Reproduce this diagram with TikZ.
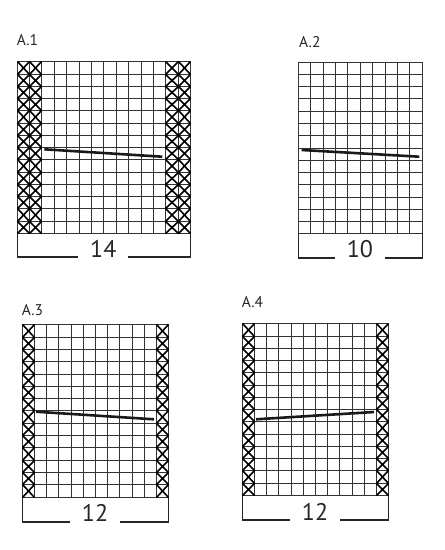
\documentclass[tikz,border=0pt]{standalone}
\usepackage{fontspec}
\setmainfont{PT Sans}
\tikzset{
  gridline/.style={draw=black!80,line width=1.35pt,line cap=rect},
  xmark/.style={draw=black,line width=1.6pt},
  slant/.style={draw=black!90,line width=2.6pt},
  bracket/.style={draw=black!85,line width=1.7pt},
  lbl/.style={anchor=base west,inner sep=0pt,font=\fontsize{15.5}{15.5}\selectfont,text=black!85},
  num/.style={anchor=base,inner sep=0pt,font=\fontsize{24}{24}\selectfont,text=black!85}
}
% x0 y0 cols rows cw ch  -- lines snapped to pixel centres
\newcommand\kgrid[6]{%
  \pgfmathsetmacro\gxa{round(#1)+0.5}\pgfmathsetmacro\gxb{round(#1+#3*#5)+0.5}%
  \pgfmathsetmacro\gya{round(#2)+0.5}\pgfmathsetmacro\gyb{round(#2+#4*#6)+0.5}%
  \foreach \i in {0,...,#3}{\pgfmathsetmacro\gx{round(#1+\i*#5)+0.5}\draw[gridline] (\gx,\gya) -- (\gx,\gyb);}
  \foreach \j in {0,...,#4}{\pgfmathsetmacro\gy{round(#2+\j*#6)+0.5}\draw[gridline] (\gxa,\gy) -- (\gxb,\gy);}
}
% x0 y0 col cw ch  (14 rows)
\newcommand\kx[5]{%
  \pgfmathsetmacro\kxa{round(#1+(#3-1)*#4)+0.5}\pgfmathsetmacro\kxb{round(#1+#3*#4)+0.5}%
  \foreach \j in {0,...,13}{%
    \pgfmathsetmacro\kya{round(#2+\j*#5)+0.5}\pgfmathsetmacro\kyb{round(#2+(\j+1)*#5)+0.5}%
    \draw[xmark] (\kxa,\kya) -- (\kxb,\kyb) (\kxb,\kya) -- (\kxa,\kyb);}
}
% x0 x1 ygrid ybracket
\newcommand\kbr[4]{%
  \pgfmathsetmacro\bxa{round(#1)+0.5}\pgfmathsetmacro\bxb{round(#2)+0.5}\pgfmathsetmacro\bya{round(#3)+0.5}\pgfmathsetmacro\byb{round(#4)}%
  \draw[bracket] (\bxa,\bya) -- (\bxa,\byb) -- ({(#1+#2)/2-25},\byb);
  \draw[bracket] ({(#1+#2)/2+25},\byb) -- (\bxb,\byb) -- (\bxb,\bya);
}
\begin{document}
\begin{tikzpicture}[x=1pt,y=-1pt]
\fill[white] (0,0) rectangle (445,550);
\useasboundingbox (0,0) rectangle (445,550);

% ---------- A.1 ----------
\node[lbl] (labA1) at (16.7,45) {A.1};
\kgrid{16.7}{61.3}{14}{14}{12.38}{12.25}
\kx{16.7}{61.3}{1}{12.38}{12.25}
\kx{16.7}{61.3}{2}{12.38}{12.25}
\kx{16.7}{61.3}{13}{12.38}{12.25}
\kx{16.7}{61.3}{14}{12.38}{12.25}
\draw[slant] (44.3,149.3) -- (162.3,156.7);
\kbr{16.7}{190}{232.8}{257.3}
\node[num] (numA1) at (103.3,257.5) {14};

% ---------- A.2 ----------
\node[lbl] (labA2) at (299,47.3) {A.2};
\kgrid{298}{61.7}{10}{14}{12.37}{12.26}
\draw[slant] (301.7,150) -- (419.3,156.7);
\kbr{298}{421.7}{233.3}{257.7}
\node[num] (numA2) at (359.9,257.9) {10};

% ---------- A.3 ----------
\node[lbl] (labA3) at (21.7,315.7) {A.3};
\kgrid{21.7}{324.3}{12}{14}{12.22}{12.31}
\kx{21.7}{324.3}{1}{12.22}{12.31}
\kx{21.7}{324.3}{12}{12.22}{12.31}
\draw[slant] (36,411.7) -- (154,419.3);
\kbr{21.7}{168.3}{496.7}{521.7}
\node[num] (numA3) at (95,521.9) {12};

% ---------- A.4 ----------
\node[lbl] (labA4) at (241.7,307.3) {A.4};
\kgrid{241.7}{323.3}{12}{14}{12.22}{12.26}
\kx{241.7}{323.3}{1}{12.22}{12.26}
\kx{241.7}{323.3}{12}{12.22}{12.26}
\draw[slant] (256,419.3) -- (374,412);
\kbr{241.7}{388.3}{495}{520}
\node[num] (numA4) at (315,520.2) {12};
\end{tikzpicture}
\end{document}
